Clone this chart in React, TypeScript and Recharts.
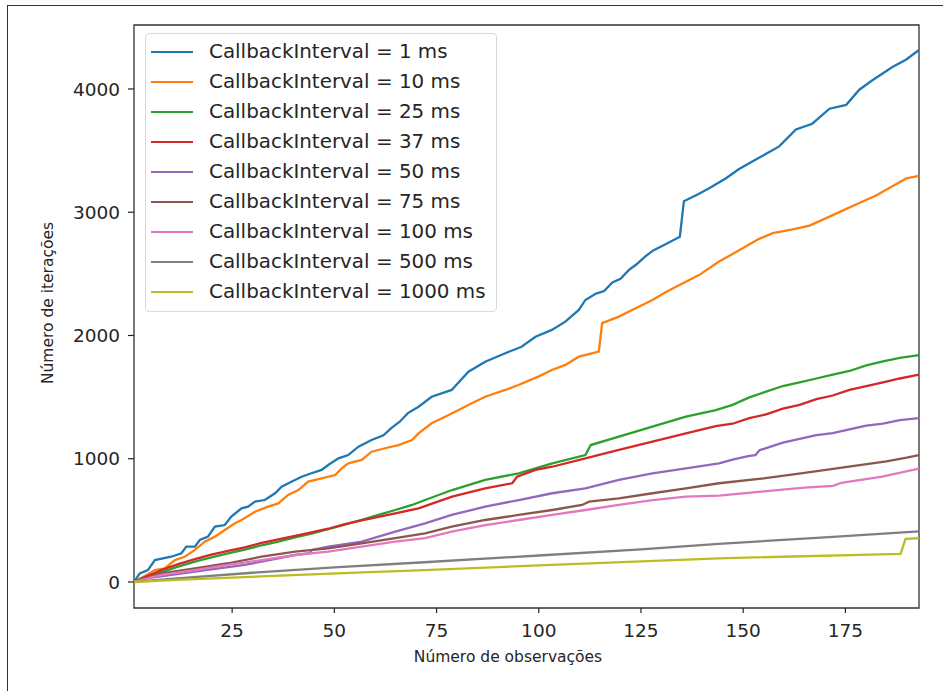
import React from 'react';
import { LineChart, Line, XAxis, YAxis, ReferenceArea } from 'recharts';

const xTicks = [25, 50, 75, 100, 125, 150, 175];
const yTicks = [0, 1000, 2000, 3000, 4000];
const xDomain = [1, 193];
const yDomain = [-211, 4519];

const xLabel = 'Número de observações';
const yLabel = 'Número de iterações';

const obs1 = [1, 2.4, 4.4, 6.1, 10.1, 12.6, 13.8, 15.9, 17.1, 19.1, 20.8, 23.2, 24.8, 27.3, 28.9, 30.6, 33, 35.5, 37.1, 39.5, 42, 44.4, 46.9, 48.5, 51, 53.4, 55.9, 59.1, 62, 64, 66, 68, 70.6, 73.8, 78.7, 82.8, 86.9, 91.8, 95.8, 99.2, 103.2, 106.5, 109.8, 111.4, 114, 116, 118, 120, 122, 124, 126, 128, 131, 134.5, 135.5, 139.2, 142, 145.7, 149, 153.1, 158.8, 162.9, 166.9, 171.1, 175.2, 178.4, 181.6, 186.5, 189.9, 193];
const iter1 = [0, 70, 97, 178, 205, 233, 287, 287, 341, 368, 449, 462, 530, 598, 611, 652, 665, 720, 773, 814, 854, 882, 909, 949, 1003, 1030, 1098, 1152, 1190, 1250, 1300, 1370, 1422, 1503, 1558, 1706, 1787, 1856, 1909, 1990, 2045, 2112, 2207, 2288, 2340, 2360, 2430, 2460, 2530, 2580, 2640, 2690, 2740, 2800, 3090, 3150, 3200, 3274, 3351, 3427, 3534, 3672, 3718, 3840, 3871, 3994, 4071, 4178, 4239, 4316];

const obs10 = [1, 2, 6.1, 8.5, 11, 13.4, 15.9, 18.3, 20.8, 23.2, 25.7, 27.3, 30.6, 33.8, 36.3, 38.7, 41.2, 43.6, 46.9, 50.2, 51.8, 53.4, 56.7, 59.1, 62.4, 65.7, 69, 70.6, 73.8, 77.1, 80.4, 83.6, 86.9, 91.8, 95, 99.9, 103.2, 106.5, 109.8, 114.7, 115.5, 119.6, 123.7, 127.8, 131, 135, 139.2, 144.1, 147.4, 150.7, 153.9, 157.2, 162.1, 166.2, 170.3, 174.3, 178.4, 182.5, 186.6, 189.9, 193];
const iter10 = [0, 16, 97, 111, 178, 205, 260, 327, 368, 422, 476, 503, 570, 611, 638, 706, 746, 814, 841, 868, 922, 963, 990, 1057, 1085, 1111, 1152, 1206, 1288, 1341, 1395, 1450, 1503, 1558, 1598, 1666, 1720, 1761, 1828, 1870, 2100, 2153, 2221, 2288, 2350, 2420, 2490, 2600, 2661, 2723, 2784, 2830, 2861, 2891, 2952, 3013, 3075, 3136, 3213, 3274, 3295];

const obs25 = [1, 2.8, 7.7, 11.8, 15.9, 19.9, 24, 28.1, 32.2, 36.3, 40.4, 44.4, 48.5, 52.6, 56.7, 60.8, 64.9, 69, 72.2, 78.8, 86.9, 95.1, 103.3, 111.4, 112.7, 119.6, 127.8, 136, 143.3, 147.4, 151.5, 155.6, 159.7, 163.8, 167.9, 171.9, 176, 180.1, 184.2, 188.3, 193];
const iter25 = [0, 30, 80, 125, 165, 200, 232, 262, 298, 328, 362, 392, 428, 466, 505, 544, 584, 625, 665, 746, 828, 882, 963, 1030, 1111, 1179, 1260, 1341, 1395, 1437, 1498, 1544, 1590, 1620, 1651, 1682, 1712, 1758, 1789, 1819, 1840];

const obs37 = [1, 7.7, 11.8, 15.9, 19.9, 24, 28.1, 32.2, 36.3, 40.4, 44.4, 48.5, 52.6, 56.7, 60.8, 64.9, 70.6, 78.8, 86.9, 93.5, 94.7, 99.2, 103.3, 111.4, 119.6, 127.8, 136, 143.3, 147.4, 151.5, 155.6, 159.7, 163.8, 167.9, 171.9, 176, 180.1, 184.2, 188.3, 193];
const iter37 = [0, 97, 145, 185, 222, 252, 280, 318, 346, 374, 402, 432, 470, 500, 528, 557, 598, 692, 760, 801, 854, 909, 935, 1003, 1071, 1138, 1206, 1265, 1284, 1330, 1360, 1406, 1437, 1483, 1513, 1559, 1590, 1620, 1651, 1682];

const obs50 = [1, 4, 15.9, 28.1, 40.4, 44, 44.5, 48.5, 56.7, 64.9, 72.2, 78.7, 86.9, 95.1, 103.3, 111.4, 119.6, 127.8, 136, 144.1, 147.4, 151.5, 153, 154, 159.7, 163.8, 167.9, 171.9, 176, 180.1, 184.2, 188.3, 193];
const iter50 = [0, 30, 84, 138, 219, 235, 260, 287, 327, 408, 476, 544, 611, 665, 720, 760, 828, 882, 922, 963, 993, 1024, 1030, 1069, 1131, 1161, 1192, 1207, 1238, 1268, 1284, 1314, 1330];

const obs75 = [1, 7.7, 15.9, 24, 32.2, 40.4, 48.5, 56.7, 64.9, 72.2, 78.7, 86.9, 95.1, 103.3, 110.6, 112.3, 119.6, 127.8, 136, 144.1, 155, 165, 175, 185, 190, 193];
const iter75 = [0, 70, 111, 152, 205, 246, 273, 314, 355, 395, 449, 503, 544, 584, 625, 652, 679, 720, 760, 801, 840, 886, 932, 978, 1009, 1030];

const obs100 = [1, 7.7, 15.9, 24, 32.2, 40.4, 48.5, 56.7, 64.9, 72.2, 78.7, 86.9, 95.1, 103.3, 111.4, 119.6, 127.8, 136, 144.1, 155, 165, 172, 174, 184, 193];
const iter100 = [0, 57, 97, 138, 178, 219, 246, 287, 327, 355, 408, 462, 503, 544, 584, 625, 665, 692, 700, 735, 765, 780, 805, 855, 920];

const obs500 = [1, 10, 30, 50, 72, 100, 125, 144, 170, 193];
const iter500 = [0, 25, 75, 118, 160, 215, 265, 310, 362, 410];

const obs1000 = [1, 10, 32, 57, 72, 100, 144, 188.5, 189.7, 193];
const iter1000 = [0, 15, 45, 78, 97, 135, 192, 228, 350, 355];

const seriesNames = [
  'CallbackInterval = 1 ms',
  'CallbackInterval = 10 ms',
  'CallbackInterval = 25 ms',
  'CallbackInterval = 37 ms',
  'CallbackInterval = 50 ms',
  'CallbackInterval = 75 ms',
  'CallbackInterval = 100 ms',
  'CallbackInterval = 500 ms',
  'CallbackInterval = 1000 ms',
];
const seriesColors = ['#1f77b4', '#ff7f0e', '#2ca02c', '#d62728', '#9467bd', '#8c564b', '#e377c2', '#7f7f7f', '#bcbd22'];
const seriesObs = [obs1, obs10, obs25, obs37, obs50, obs75, obs100, obs500, obs1000];
const seriesIter = [iter1, iter10, iter25, iter37, iter50, iter75, iter100, iter500, iter1000];

const series = seriesNames.map((name, i) => ({
  name,
  color: seriesColors[i],
  data: seriesObs[i].map((x, j) => ({ x, y: seriesIter[i][j] })),
}));

const FONT = '"DejaVu Sans", sans-serif';
const TEXT = '#262626';

export default function App() {
  return (
    <div style={{ position: 'absolute', left: 0, top: 0, width: 943, height: 691, background: '#fff', overflow: 'hidden', fontFamily: FONT }}>
      <div style={{ position: 'absolute', left: 7, top: 5, width: 960, height: 720, borderLeft: '1.5px solid #333', borderTop: '1.5px solid #333' }} />
      <div style={{ position: 'absolute', left: 0, top: 0 }}>
        <LineChart width={943} height={691} margin={{ top: 25, right: 24, bottom: 43, left: 64 }}>
          <XAxis
            type="number"
            dataKey="x"
            domain={xDomain}
            ticks={xTicks}
            allowDataOverflow
            axisLine={false}
            tickLine={{ stroke: '#222', strokeWidth: 1.2 }}
            tickSize={5}
            tickMargin={11}
            height={40}
            tick={{ fontSize: 18.5, fill: TEXT, fontFamily: FONT }}
          />
          <YAxis
            type="number"
            dataKey="y"
            domain={yDomain}
            ticks={yTicks}
            allowDataOverflow
            axisLine={false}
            tickLine={{ stroke: '#222', strokeWidth: 1.2 }}
            tickSize={6}
            tickMargin={8}
            width={70}
            tick={{ fontSize: 18.5, fill: TEXT, fontFamily: FONT }}
          />
          {series.map((s) => (
            <Line
              key={s.name}
              data={s.data}
              dataKey="y"
              name={s.name}
              type="linear"
              stroke={s.color}
              strokeWidth={2.3}
              dot={false}
              activeDot={false}
              isAnimationActive={false}
            />
          ))}
          <ReferenceArea
            x1={xDomain[0]}
            x2={xDomain[1]}
            y1={yDomain[0]}
            y2={yDomain[1]}
            fill="none"
            fillOpacity={0}
            stroke="#333"
            strokeWidth={1.3}
            ifOverflow="visible"
          />
        </LineChart>
      </div>
      <div style={{ position: 'absolute', left: 508, top: 657, transform: 'translate(-50%, -50%)', fontSize: 15.5, color: TEXT, whiteSpace: 'nowrap' }}>
        {xLabel}
      </div>
      <div style={{ position: 'absolute', left: 48, top: 303, transform: 'translate(-50%, -50%) rotate(-90deg)', fontSize: 15.5, color: TEXT, whiteSpace: 'nowrap' }}>
        {yLabel}
      </div>
      <div
        style={{
          position: 'absolute',
          left: 145,
          top: 33,
          width: 352,
          height: 279,
          border: '1px solid #d9d9d9',
          borderRadius: 4,
          background: 'rgba(255,255,255,0.8)',
          paddingTop: 3,
          boxSizing: 'border-box',
        }}
      >
        {series.map((s) => (
          <div key={s.name} style={{ display: 'flex', alignItems: 'center', height: 30 }}>
            <div style={{ marginLeft: 5, width: 42, height: 2.3, background: s.color }} />
            <div style={{ marginLeft: 16, fontSize: 19.9, color: TEXT, whiteSpace: 'nowrap', lineHeight: '30px' }}>{s.name}</div>
          </div>
        ))}
      </div>
    </div>
  );
}
